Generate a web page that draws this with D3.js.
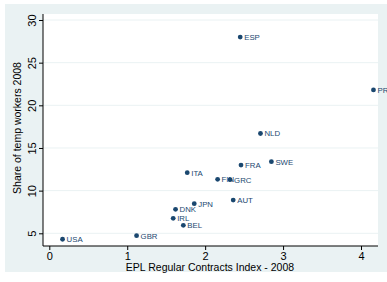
<!DOCTYPE html>
<html><head><meta charset="utf-8">
<script src="https://cdn.jsdelivr.net/npm/d3@7"></script>
<style>body{margin:0;background:#fff}svg{display:block}</style>
</head><body>
<script>
const countries = ["USA","GBR","BEL","IRL","DNK","JPN","AUT","ITA","FIN","GRC","FRA","SWE","NLD","ESP","PRT"];
const eplValues = [0.17,1.12,1.72,1.59,1.62,1.86,2.36,1.77,2.16,2.32,2.46,2.85,2.71,2.45,4.16];
const tempShares = [4.3,4.72,5.94,6.76,7.81,8.47,8.9,12.1,11.33,11.28,13.0,13.4,16.7,28.0,21.8];
const xTicks = [0,1,2,3,4];
const yTicks = [5,10,15,20,25,30];
const xTitle = "EPL Regular Contracts Index - 2008";
const yTitle = "Share of temp workers 2008";

const W = 387, H = 282;
const svg = d3.select("body").append("svg").attr("width", W).attr("height", H)
  .style("font-family", "Arial, 'Liberation Sans', Helvetica, sans-serif");
svg.append("rect").attr("width", W).attr("height", H).attr("fill", "#fff");
svg.append("rect").attr("x", 5).attr("y", 4).attr("width", W - 5).attr("height", 268).attr("fill", "#EAF2F3");

const plot = {left: 43, right: 378, top: 14, bottom: 246};
svg.append("rect").attr("x", plot.left).attr("y", plot.top)
  .attr("width", plot.right - plot.left).attr("height", plot.bottom - plot.top).attr("fill", "#fff");

const x = d3.scaleLinear().domain([0, 4]).range([49.3, 361]);
const y = d3.scaleLinear().domain([5, 30]).range([233.3, 20]);

// gridlines
svg.append("g").selectAll("line").data(yTicks).join("line")
  .attr("x1", plot.left).attr("x2", plot.right)
  .attr("y1", d => y(d)).attr("y2", d => y(d))
  .attr("stroke", "#EAF2F3").attr("stroke-width", 1);

// y axis
const yAxis = svg.append("g").attr("transform", `translate(${plot.left},0)`)
  .call(d3.axisLeft(y).tickValues(yTicks).tickFormat(d3.format("d")).tickSize(4).tickPadding(3).tickSizeOuter(0));
yAxis.select(".domain").remove();
yAxis.append("line").attr("x1", 0).attr("x2", 0).attr("y1", plot.top).attr("y2", plot.bottom)
  .attr("stroke", "#000").attr("stroke-width", 1);
yAxis.selectAll(".tick line").attr("stroke", "#000");
yAxis.selectAll(".tick text")
  .attr("font-size", 11).attr("fill", "#000")
  .attr("x", null).attr("dy", null)
  .attr("text-anchor", "middle")
  .attr("transform", "translate(-7,0) rotate(-90)");

// x axis
const xAxis = svg.append("g").attr("transform", `translate(0,${plot.bottom})`)
  .call(d3.axisBottom(x).tickValues(xTicks).tickFormat(d3.format("d")).tickSize(4).tickPadding(2).tickSizeOuter(0));
xAxis.select(".domain").remove();
xAxis.append("line").attr("x1", plot.left).attr("x2", plot.right).attr("y1", 0).attr("y2", 0)
  .attr("stroke", "#000").attr("stroke-width", 1);
xAxis.selectAll(".tick line").attr("stroke", "#000");
xAxis.selectAll(".tick text").attr("font-size", 11).attr("fill", "#000");

// titles
svg.append("text").attr("x", 210).attr("y", 271)
  .attr("text-anchor", "middle").attr("font-size", 10.5).attr("fill", "#000").text(xTitle);
svg.append("text").attr("transform", `translate(21,${(plot.top + plot.bottom) / 2 - 2}) rotate(-90)`)
  .attr("text-anchor", "middle").attr("font-size", 10.5).attr("fill", "#000").text(yTitle);

// points
const data = countries.map((c, i) => ({c, x: eplValues[i], y: tempShares[i]}));
const g = svg.append("g");
g.selectAll("circle").data(data).join("circle")
  .attr("cx", d => x(d.x)).attr("cy", d => y(d.y)).attr("r", 2.4)
  .attr("fill", "#1a476f");
g.selectAll("text").data(data).join("text")
  .attr("x", d => x(d.x) + 4).attr("y", d => y(d.y) + 3)
  .attr("font-size", 7.8).attr("fill", "#1a476f").text(d => d.c);
</script>
</body></html>
